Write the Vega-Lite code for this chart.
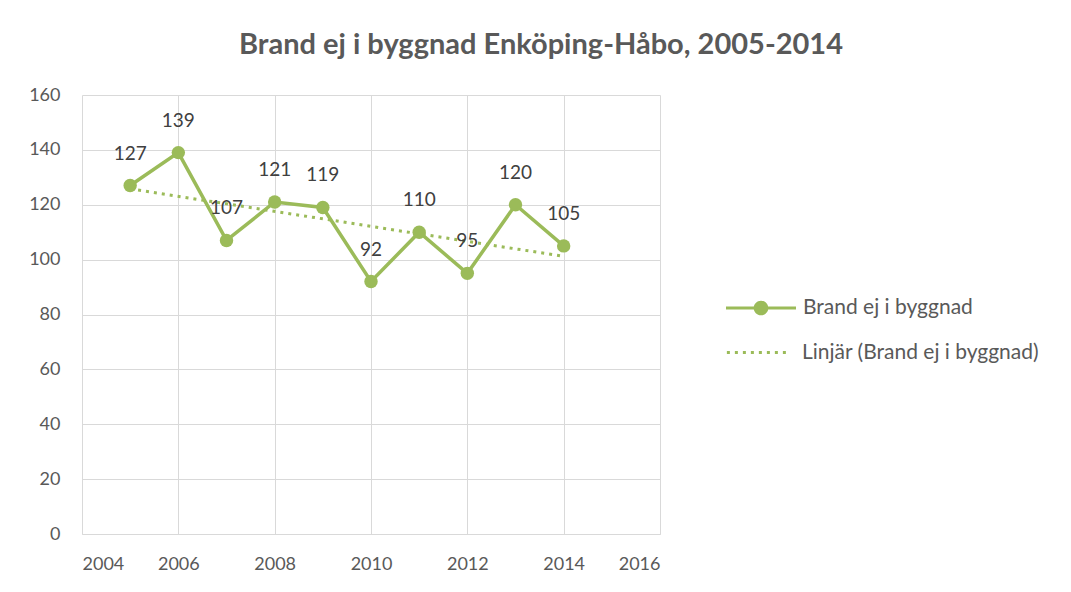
{
  "$schema": "https://vega.github.io/schema/vega-lite/v6.json",
  "width": 578,
  "height": 439,
  "autosize": {"type": "none"},
  "padding": {"left": 82, "top": 95, "right": 411, "bottom": 58},
  "background": "white",
  "title": {
    "text": "Brand ej i byggnad Enköping-Håbo, 2005-2014",
    "font": "Lato",
    "fontSize": 29,
    "fontWeight": "bold",
    "color": "#595959",
    "anchor": "middle",
    "dx": 170,
    "offset": 26
  },
  "data": {
    "values": [
      {"year": 2005, "value": 127, "series": "Brand ej i byggnad", "trend": "Linjär (Brand ej i byggnad)"},
      {"year": 2006, "value": 139, "series": "Brand ej i byggnad", "trend": "Linjär (Brand ej i byggnad)"},
      {"year": 2007, "value": 107, "series": "Brand ej i byggnad", "trend": "Linjär (Brand ej i byggnad)"},
      {"year": 2008, "value": 121, "series": "Brand ej i byggnad", "trend": "Linjär (Brand ej i byggnad)"},
      {"year": 2009, "value": 119, "series": "Brand ej i byggnad", "trend": "Linjär (Brand ej i byggnad)"},
      {"year": 2010, "value": 92, "series": "Brand ej i byggnad", "trend": "Linjär (Brand ej i byggnad)"},
      {"year": 2011, "value": 110, "series": "Brand ej i byggnad", "trend": "Linjär (Brand ej i byggnad)"},
      {"year": 2012, "value": 95, "series": "Brand ej i byggnad", "trend": "Linjär (Brand ej i byggnad)"},
      {"year": 2013, "value": 120, "series": "Brand ej i byggnad", "trend": "Linjär (Brand ej i byggnad)"},
      {"year": 2014, "value": 105, "series": "Brand ej i byggnad", "trend": "Linjär (Brand ej i byggnad)"}
    ]
  },
  "config": {
    "view": {"stroke": null},
    "font": "Lato",
    "axis": {
      "labelFont": "Lato",
      "labelFontSize": 18,
      "labelColor": "#595959",
      "gridColor": "#d9d9d9",
      "gridWidth": 1,
      "ticks": false,
      "title": null
    },
    "legend": {
      "labelFont": "Lato",
      "labelFontSize": 21,
      "labelColor": "#595959",
      "labelLimit": 400,
      "title": null
    }
  },
  "encoding": {
    "x": {
      "field": "year",
      "type": "quantitative",
      "scale": {"domain": [2004, 2016], "nice": false, "zero": false},
      "axis": {
        "values": [2004, 2006, 2008, 2010, 2012, 2014, 2016],
        "format": "d",
        "grid": true,
        "domain": true,
        "domainColor": "#d9d9d9",
        "domainWidth": 1,
        "labelPadding": 21
      }
    },
    "y": {
      "field": "value",
      "type": "quantitative",
      "scale": {"domain": [0, 160], "nice": false},
      "axis": {
        "values": [0, 20, 40, 60, 80, 100, 120, 140, 160],
        "grid": true,
        "domain": false,
        "labelPadding": 22
      }
    }
  },
  "layer": [
    {
      "transform": [{"regression": "value", "on": "year", "groupby": ["trend"]}],
      "mark": {"type": "line", "color": "#9BBB59", "strokeWidth": 3},
      "encoding": {
        "strokeDash": {
          "field": "trend",
          "type": "nominal",
          "scale": {"range": [[3, 5]]},
          "legend": {
            "orient": "none",
            "legendX": 643,
            "legendY": 224,
            "symbolType": "stroke",
            "symbolSize": 4000,
            "symbolStrokeWidth": 3,
            "symbolStrokeColor": "#9BBB59",
            "labelOffset": 10
          }
        }
      }
    },
    {
      "mark": {"type": "line", "color": "#9BBB59", "strokeWidth": 3.5}
    },
    {
      "mark": {"type": "circle", "color": "#9BBB59", "size": 180, "opacity": 1}
    },
    {
      "mark": {"type": "text", "dy": -32, "fontSize": 19, "color": "#404040", "font": "Lato"},
      "encoding": {"text": {"field": "value", "type": "quantitative"}}
    },
    {
      "transform": [{"filter": "datum.year == 2005"}],
      "mark": {"type": "point", "filled": true, "fill": "#9BBB59", "opacity": 0},
      "encoding": {
        "shape": {
          "field": "series",
          "type": "nominal",
          "scale": {"range": ["M-1,-0.045H1V0.045H-1ZM0.21,0A0.21,0.21 0 1,1 -0.21,0A0.21,0.21 0 1,1 0.21,0Z"]},
          "legend": {
            "orient": "none",
            "legendX": 643,
            "legendY": 177,
            "symbolSize": 4900,
            "symbolOpacity": 1,
            "symbolFillColor": "#9BBB59",
            "labelOffset": 6
          }
        }
      }
    }
  ]
}
